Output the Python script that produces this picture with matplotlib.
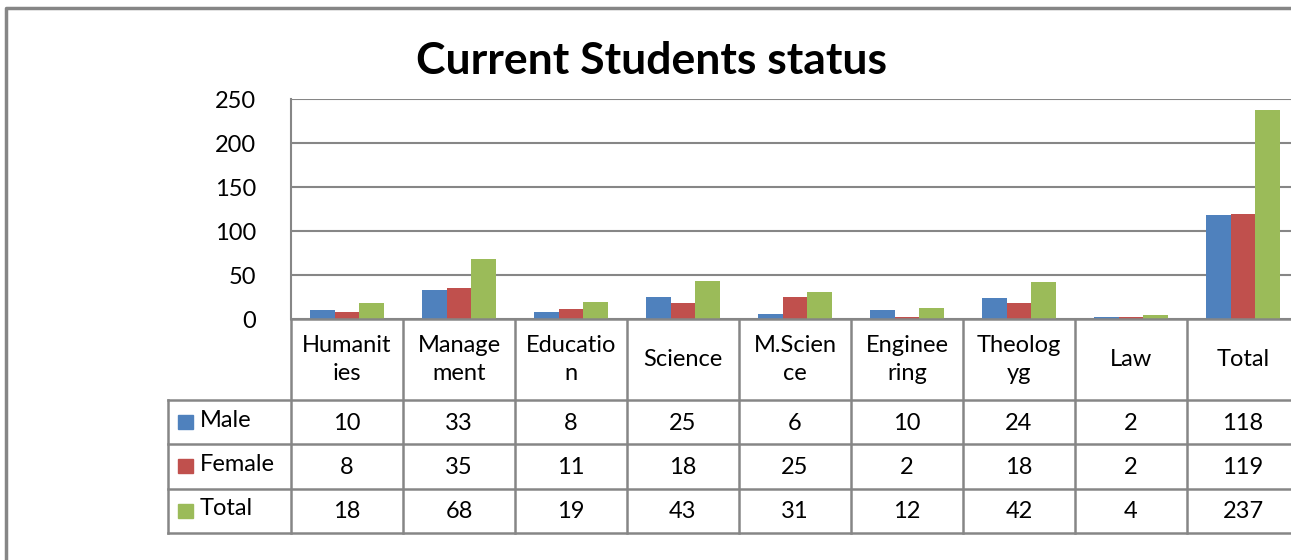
import matplotlib
matplotlib.use("Agg")
import matplotlib.pyplot as plt
from matplotlib.patches import Rectangle
import numpy as np

categories = ["Humanit\nies", "Manage\nment", "Educatio\nn", "Science", "M.Scien\nce",
              "Enginee\nring", "Theolog\nyg", "Law", "Total"]
series_names = ["Male", "Female", "Total"]
male = [10, 33, 8, 25, 6, 10, 24, 2, 118]
female = [8, 35, 11, 18, 25, 2, 18, 2, 119]
total = [18, 68, 19, 43, 31, 12, 42, 4, 237]
colors = ["#4F81BD", "#C0504D", "#9BBB59"]

plt.rcParams["font.family"] = ["Lato", "DejaVu Sans"]
W, H = 1291, 560
GRID = "#868686"
FS = 17


def px(x0, y0, x1, y1):
    return [x0 / W, 1 - y1 / H, (x1 - x0) / W, (y1 - y0) / H]


fig = plt.figure(figsize=(W / 100, H / 100), dpi=100)

# outer chart border: only left and top edges are inside the picture
frame = fig.add_axes([0, 0, 1, 1], zorder=-1)
frame.set_xlim(0, W)
frame.set_ylim(H, 0)
frame.axis("off")
frame.plot([6, 6, W + 20], [H + 20, 8, 8], color=GRID, lw=2.5, solid_capstyle="butt")

fig.text(651 / W, 1 - 61 / H, "Current Students status", ha="center", va="center",
         fontsize=32, fontweight="bold")

# bar plot
ax = fig.add_axes(px(291, 99, 1299, 319))
n = len(categories)
x = np.arange(n)
w = 1 / 4.5
for i, vals in enumerate([male, female, total]):
    ax.bar(x + (i - 1) * w, vals, w, color=colors[i], zorder=3)
ax.set_xlim(-0.5, n - 0.5)
ax.set_ylim(0, 250)
ax.set_yticks(range(0, 251, 50))
ax.yaxis.grid(True, color=GRID, lw=1.5)
ax.tick_params(axis="y", length=0, labelsize=FS, pad=25)
ax.set_xticks([])
for s in ["top", "right", "bottom"]:
    ax.spines[s].set_visible(False)
ax.spines["left"].set_color(GRID)
ax.spines["left"].set_linewidth(1.5)

# data table
header_h, row_h = 81, 44.5
left = -0.5 - (291 - 168) / 112
tb = fig.add_axes(px(168, 319, 1299, 533))
tb.set_xlim(left, n - 0.5)
tb.set_ylim(header_h + 3 * row_h, 0)
tb.axis("off")
kw = dict(color=GRID, lw=1.8, clip_on=False)
tb.plot([-0.5, n - 0.5], [0, 0], **kw)
for k in range(4):
    yy = header_h + k * row_h
    tb.plot([left, n - 0.5], [yy, yy], **kw)
tb.plot([left, left], [header_h, header_h + 3 * row_h], **kw)
for j in range(n):
    tb.plot([j - 0.5, j - 0.5], [0, header_h + 3 * row_h], **kw)
    tb.text(j, header_h / 2, categories[j], ha="center", va="center", fontsize=FS,
            linespacing=1.4)
for r, vals in enumerate([male, female, total]):
    yc = header_h + (r + 0.5) * row_h
    for j, v in enumerate(vals):
        tb.text(j, yc + 1, str(v), ha="center", va="center", fontsize=FS)
    tb.add_patch(Rectangle((left + 10 / 112, yc - 7), 15 / 112, 14, color=colors[r], clip_on=False))
    tb.text(left + 32 / 112, yc - 2, series_names[r], ha="left", va="center", fontsize=FS)

fig.savefig("out.png", dpi=100)
